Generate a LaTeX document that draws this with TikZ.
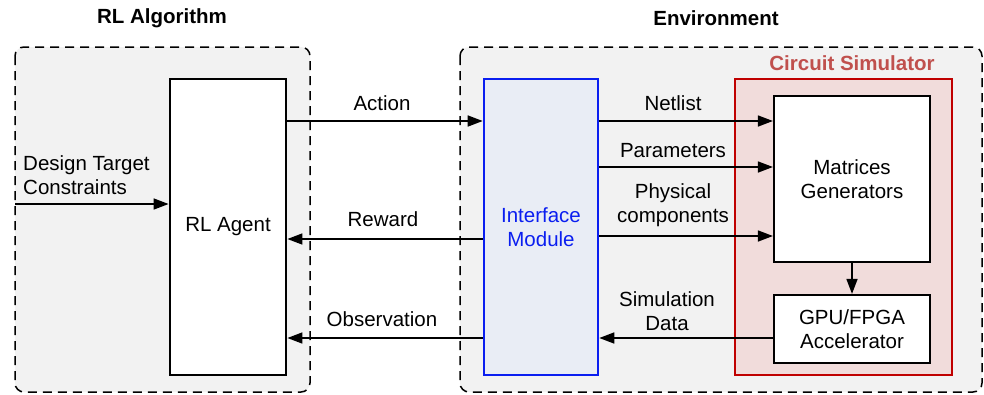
\documentclass[tikz,border=0pt]{standalone}
\usepackage{fontspec}
\setmainfont{Liberation Sans}
\usetikzlibrary{arrows.meta,calc}
\definecolor{groupfill}{HTML}{F2F2F2}
\definecolor{ifacefill}{HTML}{E9EDF5}
\definecolor{ifaceline}{HTML}{0A1EF0}
\definecolor{simfill}{HTML}{F1DCDB}
\definecolor{simline}{HTML}{C00000}
\definecolor{simtitle}{HTML}{C0504D}
\newcommand{\basefont}{\fontsize{20.5}{24.5}\selectfont}
\tikzset{
  group/.style={draw=black, fill=groupfill, line width=1.5pt, dash pattern=on 9pt off 6pt, rounded corners=9pt},
  blockbox/.style={draw=black, fill=white, line width=2.8pt, inner sep=0pt, align=center},
  ifacebox/.style={draw=ifaceline, fill=ifacefill, line width=2.6pt, inner sep=0pt, align=center, text=ifaceline},
  simbox/.style={draw=simline, fill=simfill, line width=2.6pt, inner sep=0pt},
  arr/.style={line width=1.6pt, -{Triangle[length=15pt,width=11pt]}},
  lbl/.style={inner sep=0pt, align=center},
  title/.style={inner sep=0pt, font=\basefont\bfseries}
}
\begin{document}
\begin{tikzpicture}[x=1pt,y=-1pt, font=\basefont]
\useasboundingbox (0,0) rectangle (984,394);

% group frames
\draw[group] (15,47) rectangle (310,392);
\draw[group] (460,47) rectangle (982,392);
\node[title] (ttl) at (162,18) {RL Algorithm};
\node[title] (tte) at (716,18) {Environment};

% blocks
\node[blockbox, minimum width=116pt, minimum height=296pt] (agent) at (228,227) {RL Agent};
\node[ifacebox, minimum width=114pt, minimum height=296pt] (iface) at (541,227) {Interface\\Module};
\node[simbox, minimum width=217pt, minimum height=296pt] (sim) at (843.5,227) {};
\node[title, text=simtitle] (simt) at (852,63) {Circuit Simulator};
\node[blockbox, line width=2.2pt, minimum width=156pt, minimum height=166pt] (mat) at (852,179) {Matrices\\Generators};
\node[blockbox, line width=2.2pt, minimum width=156pt, minimum height=68pt] (gpu) at (852,329) {GPU/FPGA\\Accelerator};

% signal levels
\coordinate (dt) at (15,204);
\coordinate (yact) at (0,121);
\coordinate (yrew) at (0,239);
\coordinate (yobs) at (0,338);
\coordinate (ynet) at (0,121);
\coordinate (ypar) at (0,167);
\coordinate (yphy) at (0,236);

% connectors
\draw[arr] (dt) -- (agent.west |- dt);
\draw[arr] (agent.east |- yact) -- (iface.west |- yact);
\draw[arr] (iface.west |- yrew) -- (agent.east |- yrew);
\draw[arr] (iface.west |- yobs) -- (agent.east |- yobs);
\draw[arr] (iface.east |- ynet) -- (mat.west |- ynet);
\draw[arr] (iface.east |- ypar) -- (mat.west |- ypar);
\draw[arr] (iface.east |- yphy) -- (mat.west |- yphy);
\draw[arr] (mat.south) -- (gpu.north);
\draw[arr] (gpu.west |- yobs) -- (iface.east |- yobs);

% labels
\node[lbl, anchor=west, align=left] (ldt) at (23,175) {Design Target\\Constraints};
\node[lbl] (lact) at (382,103) {Action};
\node[lbl] (lrew) at (383,219) {Reward};
\node[lbl] (lobs) at (382,319) {Observation};
\node[lbl] (lnet) at (673,103) {Netlist};
\node[lbl] (lpar) at (673,151) {Parameters};
\node[lbl] (lphy) at (673,205) {Physical\\components};
\node[lbl] (lsim) at (667,311) {Simulation\\Data};
\end{tikzpicture}
\end{document}
